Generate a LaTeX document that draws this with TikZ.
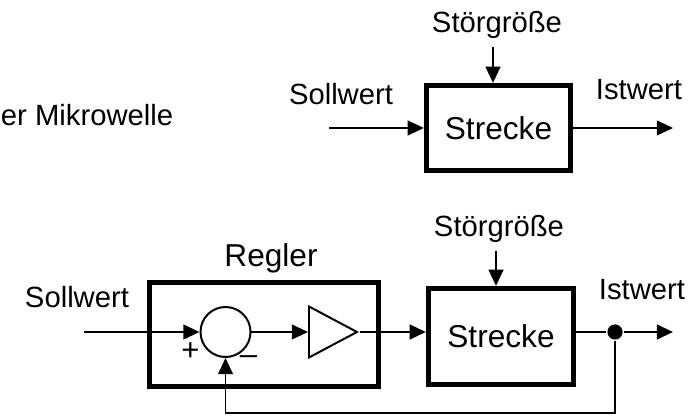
\documentclass[tikz,border=0pt]{standalone}
\usepackage{fontspec}
\setmainfont{Liberation Sans}
\usepackage{tikz}
\usetikzlibrary{arrows.meta,shapes.geometric}

\begin{document}
\begin{tikzpicture}[
    >={Triangle[length=11.5pt,width=10.5pt]},
    line width=1.4pt,
    block/.style={draw, line width=3.4pt, inner sep=0pt,
        font=\fontsize{22.5}{27}\selectfont},
    beschrift/.style={inner sep=0pt, anchor=base,
        font=\fontsize{20.8}{25}\selectfont},
    zeichen/.style={inner sep=0pt, font=\fontsize{22}{26}\selectfont}
]

% Rahmen
\useasboundingbox (0,0) rectangle (17.325,10.4);

% Text links (abgeschnitten)
\node[beschrift, anchor=base west] (mikro) at (0,7.25) {er Mikrowelle};

% Strecke oben
\node[
    block,
    minimum width=3.6125cm,
    minimum height=2.1375cm
] (strecke1) at (12.4625,7.2) {Strecke};

\node[beschrift] (stoerlbl1) at (12.425,9.575) {Störgröße};
\node[beschrift] (sollw1) at (8.525,7.775) {Sollwert};
\node[beschrift] (istw1) at (15.975,7.9) {Istwert};

\coordinate (stoer1) at (12.325,9.225);
\coordinate (ein1) at (8.225,7.2);
\coordinate (aus1) at (16.825,7.2);

\draw[->] (stoer1) -- (stoer1 |- strecke1.north);
\draw[->] (ein1) -- (strecke1.west);
\draw[->] (strecke1.east) -- (aus1);

% Regelkreis unten
\node[
    block,
    minimum width=5.7375cm,
    minimum height=2.6125cm
] (regler) at (6.6,2.0375) {};
\node[beschrift, font=\fontsize{22.5}{27}\selectfont] (reglerlbl) at (6.775,3.725) {Regler};

\node[
    block,
    minimum width=3.6375cm,
    minimum height=2.4125cm
] (strecke2) at (12.525,1.9875) {Strecke};

% Summierer und Verstaerker
\node[
    draw,
    circle,
    line width=1.4pt,
    minimum size=1.25cm,
    inner sep=0pt
] (summe) at (5.6375,2.1) {};

\node[
    draw,
    isosceles triangle,
    isosceles triangle stretches,
    line width=1.4pt,
    minimum width=1.275cm,
    minimum height=1.2cm,
    inner sep=0pt,
    anchor=west
] (verst) at (7.7,2.1) {};

\node[zeichen] (plus) at (4.7625,1.6) {+};
\node[zeichen] (minus) at (6.2125,1.4) {–};

\node[beschrift] (stoerlbl2) at (12.475,4.475) {Störgröße};
\node[beschrift] (sollw2) at (1.925,2.7) {Sollwert};
\node[beschrift] (istw2) at (16.05,2.9) {Istwert};

\node[
    circle,
    fill=black,
    minimum size=0.38cm,
    inner sep=0pt
] (punkt) at (15.375,2.1) {};

\coordinate (stoer2) at (12.4,4.125);
\coordinate (ein2) at (2.1,2.1);
\coordinate (aus2) at (16.825,2.1);
\coordinate (rueck) at (15.375,0.075);

\draw[->] (ein2) -- (summe.west);
\draw[->] (summe.east) -- (verst.west);
\draw[->] (verst.east) -- (verst.east -| strecke2.west);
\draw[->] (stoer2) -- (stoer2 |- strecke2.north);
\draw (strecke2.east |- punkt) -- (punkt);
\draw[->] (punkt) -- (aus2);

% Rueckfuehrung
\draw[->] (punkt) -- (rueck) -| (summe.south);

\end{tikzpicture}
\end{document}
